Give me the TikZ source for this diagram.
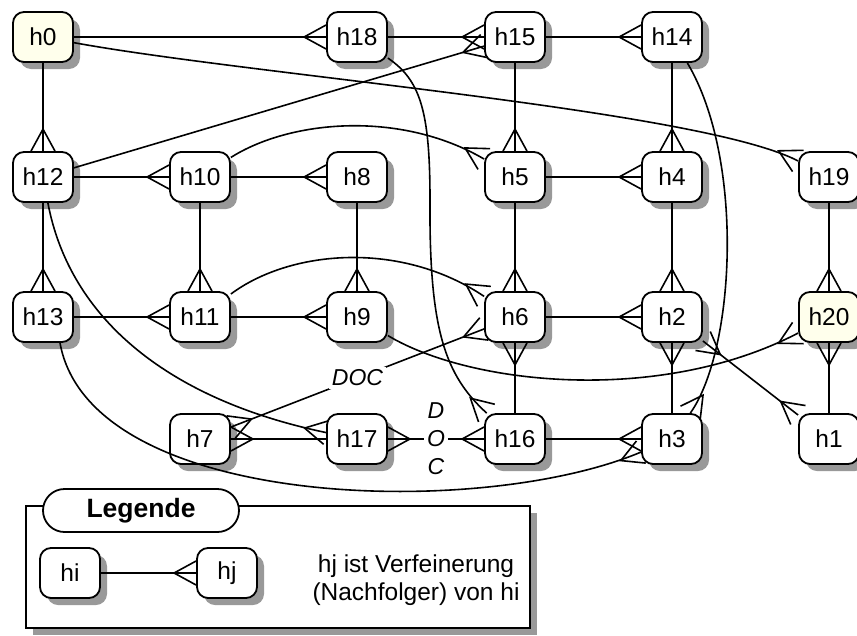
\documentclass[tikz,border=0pt]{standalone}
\usepackage{fontspec}
\setmainfont{Liberation Sans}
\usetikzlibrary{arrows.meta,shadows}

% crow's foot tip: three prongs spreading out onto the target border
\pgfdeclarearrow{
  name = Crow,
  parameters = {\the\pgfarrowlength,\the\pgfarrowwidth},
  setup code = {
    \pgfarrowssettipend{0pt}
    \pgfarrowssetlineend{0pt}
    \pgfarrowssetbackend{-\pgfarrowlength}
    \pgfarrowshullpoint{0pt}{.5\pgfarrowwidth}
    \pgfarrowshullpoint{0pt}{-.5\pgfarrowwidth}
    \pgfarrowshullpoint{-\pgfarrowlength}{0pt}
    \pgfarrowssavethe\pgfarrowlength
    \pgfarrowssavethe\pgfarrowwidth
  },
  drawing code = {
    \pgfsetdash{}{0pt}
    \pgfsetmiterjoin
    \pgfpathmoveto{\pgfqpoint{0pt}{.5\pgfarrowwidth}}
    \pgfpathlineto{\pgfqpoint{-\pgfarrowlength}{0pt}}
    \pgfpathlineto{\pgfqpoint{0pt}{-.5\pgfarrowwidth}}
    \pgfusepathqstroke
  },
  defaults = {length = 22pt, width = 24pt}
}

\definecolor{cream}{RGB}{255,255,236}
\definecolor{shade}{RGB}{153,153,153}

\tikzset{
  boxshadow/.style={drop shadow={shadow xshift=7pt, shadow yshift=-7pt, fill=shade, opacity=1}},
  hnode/.style={draw, line width=1.8pt, rounded corners=11pt, fill=white,
    minimum width=60pt, minimum height=50pt, inner sep=0pt,
    font=\fontsize{24.5}{28}\selectfont, boxshadow},
  root/.style={fill=cream},
  link/.style={line width=1.6pt, -Crow},
  both/.style={line width=1.6pt, Crow-Crow},
  doclabel/.style={fill=white, inner sep=3pt, align=center,
    font=\itshape\fontsize{23}{28}\selectfont},
  legendbox/.style={draw, line width=1.8pt, fill=white, minimum width=504pt,
    minimum height=122pt, inner sep=0pt, boxshadow},
  pill/.style={draw, line width=1.8pt, fill=white, rounded corners=21.5pt,
    minimum width=196pt, minimum height=43pt, inner sep=0pt,
    font=\bfseries\fontsize{26.5}{30}\selectfont},
}

\begin{document}
\begin{tikzpicture}[x=1pt, y=-1pt]
\useasboundingbox (0,0) rectangle (857,635);

% hypothesis nodes
\node[hnode, root] (h0)  at (43,37)  {h0};
\node[hnode] (h18) at (357,37)  {h18};
\node[hnode] (h15) at (515,37)  {h15};
\node[hnode] (h14) at (672,37)  {h14};
\node[hnode] (h12) at (43,177)  {h12};
\node[hnode] (h10) at (200,177) {h10};
\node[hnode] (h8)  at (357,177) {h8};
\node[hnode] (h5)  at (515,177) {h5};
\node[hnode] (h4)  at (672,177) {h4};
\node[hnode] (h19) at (829,177) {h19};
\node[hnode] (h13) at (43,317)  {h13};
\node[hnode] (h11) at (200,317) {h11};
\node[hnode] (h9)  at (357,317) {h9};
\node[hnode] (h6)  at (515,317) {h6};
\node[hnode] (h2)  at (672,317) {h2};
\node[hnode, root] (h20) at (829,317) {h20};
\node[hnode] (h7)  at (200,439) {h7};
\node[hnode] (h17) at (357,439) {h17};
\node[hnode] (h16) at (515,439) {h16};
\node[hnode] (h3)  at (672,439) {h3};
\node[hnode] (h1)  at (829,439) {h1};

% straight refinement links
\draw[link] (h0) -- (h18);
\draw[link] (h0) -- (h12);
\draw[link] (h18) -- (h15);
\draw[link] (h15) -- (h14);
\draw[link] (h15) -- (h5);
\draw[link] (h14) -- (h4);
\draw[link] (h12) -- (h10);
\draw[link] (h10) -- (h8);
\draw[link] (h10) -- (h11);
\draw[link] (h8) -- (h9);
\draw[link] (h5) -- (h4);
\draw[link] (h5) -- (h6);
\draw[link] (h4) -- (h2);
\draw[link] (h19) -- (h20);
\draw[link] (h12) -- (h13);
\draw[link] (h13) -- (h11);
\draw[link] (h11) -- (h9);
\draw[link] (h6) -- (h2);
\draw[link] (h16) -- (h6);
\draw[link] (h3) -- (h2);
\draw[link] (h1) -- (h20);
\draw[link] (h16) -- (h3);
\draw[link] (h17) -- (h7);
\draw[link] (h12) -- (h15);
\draw[both] (h2) -- (h1);
\draw[both] (h6) -- node[doclabel] (doc1) {DOC} (h7);
\draw[both] (h17) -- node[doclabel] (doc2) {D\\O\\C} (h16);

% curved refinement links
\coordinate (bend18) at (430,200);
\draw[link] (h0) .. controls (250,75) and (700,110) .. (h19);
\draw[link] (h14) .. controls (745,160) and (735,350) .. (h3);
\draw[link] (h18) .. controls (420,80) and (430,110) .. (bend18)
                  .. controls (429,330) and (445,375) .. (h16);
\draw[link] (h10) .. controls (290,120) and (400,110) .. (h5);
\draw[link] (h12) .. controls (70,320) and (170,400) .. (h17);
\draw[link] (h11) .. controls (290,250) and (400,240) .. (h6);
\draw[link] (h9) .. controls (470,385) and (660,405) .. (h20);
\draw[link] ([xshift=17pt]h13.south) .. controls (90,510) and (480,520) .. (h3);

% legend
\node[legendbox] (legend) at (278,567) {};
\node[pill] (legtitle) at (141,510.5) {Legende};
\node[hnode] (hi) at (70,573) {hi};
\node[hnode] (hj) at (227,573) {hj};
\draw[link] (hi) -- (hj);
\node[align=center, font=\fontsize{24.5}{28}\selectfont] (legtext) at (416,580)
  {hj ist Verfeinerung\\(Nachfolger) von hi};
\end{tikzpicture}
\end{document}
